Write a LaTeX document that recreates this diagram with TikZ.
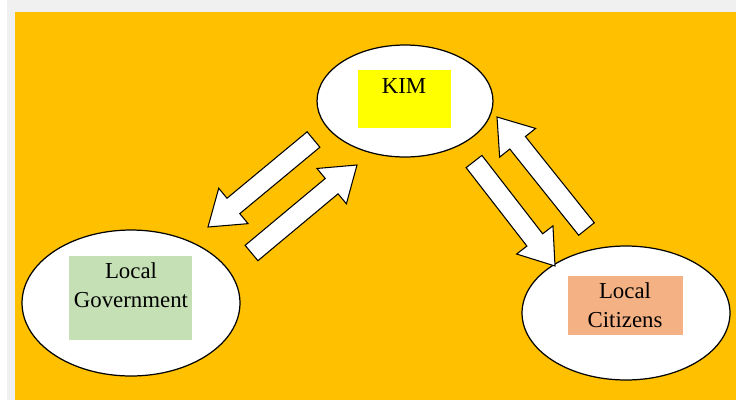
\documentclass[tikz,border=0pt]{standalone}
\usepackage{fontspec}
\setmainfont{Liberation Serif}
\usetikzlibrary{shapes.geometric,calc}
\definecolor{pageorange}{HTML}{FFC000}
\definecolor{framegray}{HTML}{F0F0F0}
\definecolor{kimyellow}{HTML}{FFFF00}
\definecolor{govgreen}{HTML}{C5E0B4}
\definecolor{citsalmon}{HTML}{F4B183}
\begin{document}
\begin{tikzpicture}[x=0.02cm, y=-0.02cm,
    bubble/.style={ellipse, draw, line width=0.7pt, fill=white, inner sep=0pt},
    label box/.style={rectangle, inner sep=0pt},
    words/.style={inner sep=0pt, align=center, font=\fontsize{13}{16.5}\selectfont},
    blockarrow/.style={draw, line width=0.6pt, fill=white, line join=miter}]
        \useasboundingbox (0,0) rectangle (736,400);
        \fill[framegray] (7,0) rectangle (736,400);
        \fill[pageorange] (15,12) rectangle (736,400);
        % the three partners
        \node[bubble, minimum width=3.52cm, minimum height=2.24cm] (kim) at (405,101) {};
        \node[bubble, minimum width=4.36cm, minimum height=2.92cm] (gov) at (131,303) {};
        \node[bubble, minimum width=4.16cm, minimum height=2.68cm] (cit) at (626,313) {};
        \node[label box, fill=kimyellow, minimum width=1.86cm, minimum height=1.16cm] (kimbox) at (404.5,99) {};
        \node[label box, fill=govgreen, minimum width=2.46cm, minimum height=1.68cm] (govbox) at (130.5,298) {};
        \node[label box, fill=citsalmon, minimum width=2.3cm, minimum height=1.18cm] (citbox) at (625.5,305.5) {};
        \node[words, anchor=base] (kimtext) at (404,93) {KIM};
        \node[words] (govtext) at (131,285) {Local\\Government};
        \node[words] (cittext) at (625,305) {Local\\Citizens};
        % ends of the block arrows
        \coordinate (a1s) at (313.5,139.5); \coordinate (a1t) at (208,227);
        \coordinate (a2s) at (251.5,253);   \coordinate (a2t) at (357,165);
        \coordinate (a3s) at (586.5,229);   \coordinate (a3t) at (497,117);
        \coordinate (a4s) at (474,161.5);   \coordinate (a4t) at (555,266);
        \foreach \s/\t in {a1s/a1t, a2s/a2t, a3s/a3t, a4s/a4t}{
            \coordinate (h) at ($(\t)!0.66cm!(\s)$);
            \draw[blockarrow] ($(\s)!0.2cm!90:(\t)$) -- ($(h)!0.2cm!90:(\t)$) -- ($(h)!0.46cm!90:(\t)$)
                -- (\t) -- ($(h)!0.46cm!-90:(\t)$) -- ($(h)!0.2cm!-90:(\t)$) -- ($(\s)!0.2cm!-90:(\t)$) -- cycle;
        }
    \end{tikzpicture}
\end{document}
